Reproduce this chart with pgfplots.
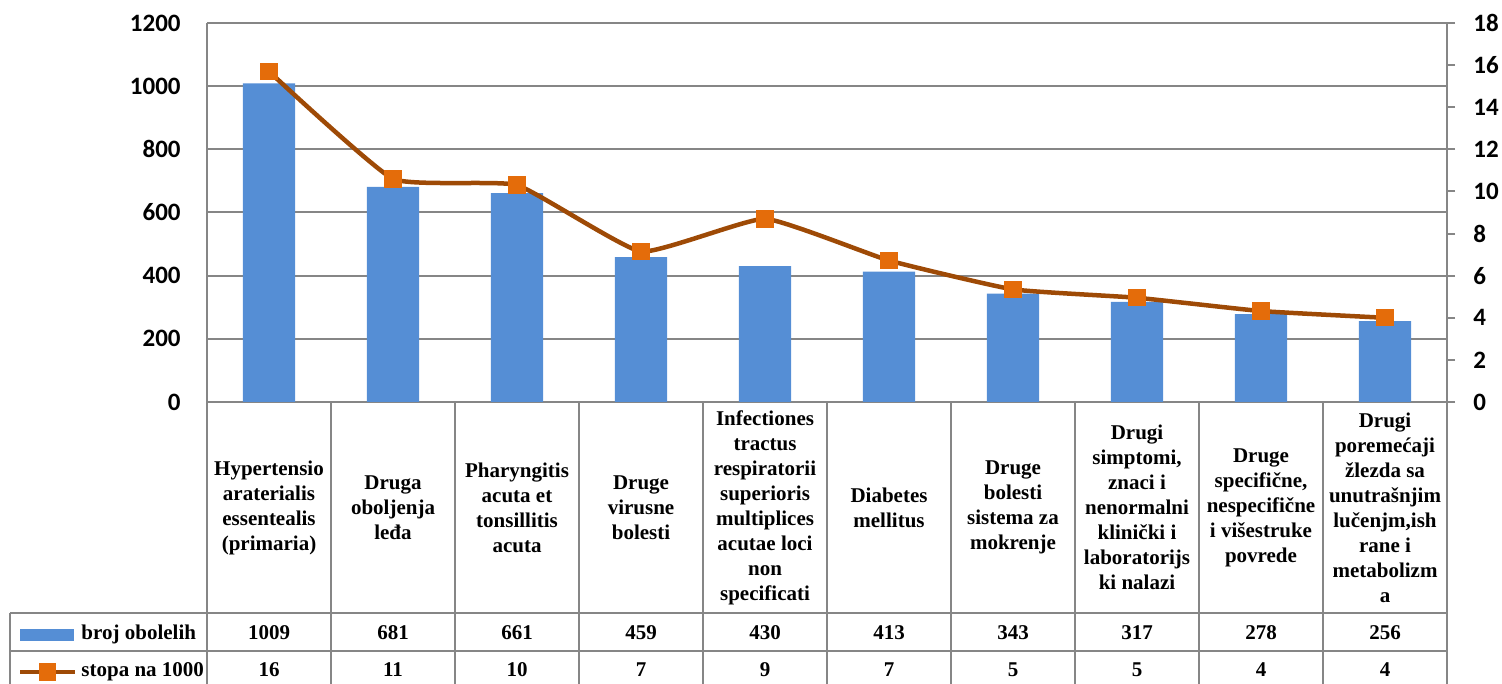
\documentclass[border=0pt]{standalone}
\usepackage{fontspec}
\setmainfont{Liberation Serif}
\newfontfamily\calib{Carlito}
\usepackage{pgfplots}
\pgfplotsset{compat=1.18}

\definecolor{barblue}{RGB}{85,142,213}
\definecolor{linebrown}{RGB}{158,74,6}
\definecolor{markorange}{RGB}{228,108,10}
\definecolor{gridgray}{RGB}{134,134,134}

% bar data (broj obolelih) and rate data (stopa na 1000)
\pgfplotstableread{
x broj stopa
0 1009 15.7
1 681 10.6
2 661 10.3
3 459 7.15
4 430 8.7
5 413 6.72
6 343 5.35
7 317 4.95
8 278 4.32
9 256 4.0
}\data

\newcommand{\tabfont}{\fontsize{10.5}{12.5}\selectfont\bfseries}

\pgfplotsset{
  base/.style={
    scale only axis, width=620pt, height=189.5pt,
    xmin=-0.5, xmax=9.5, ymin=0,
    xtick=\empty,
    axis line style={gridgray, line width=1pt},
    /pgf/number format/assume math mode=true,
    /pgf/number format/1000 sep={},
    yticklabel style={font=\calib\bfseries\fontsize{12.5}{12.5}\selectfont, inner sep=0pt},
    clip=false,
  },
}

\begin{document}
\begin{tikzpicture}
\begin{axis}[base,
  ymax=1200, ytick={0,200,...,1200},
  axis y line*=left, axis x line*=bottom,
  major tick length=0pt,
  ymajorgrids, grid style={gridgray, line width=1pt},
  yticklabel style={anchor=east, xshift=-13pt},
  ybar, bar width=0.42,
]
  \addplot[fill=barblue, draw=none] table[x=x, y=broj] {\data};
  \coordinate (O) at (rel axis cs:0,0);
\end{axis}

\begin{axis}[base,
  ymax=18, ytick={0,2,...,18},
  axis y line*=right, axis x line=none,
  tick align=outside, major tick length=4pt,
  tick style={gridgray, line width=1pt},
  yticklabel style={anchor=west, xshift=9pt},
  legend style={at={(0,0)}, anchor=north west, xshift=-94.5pt, yshift=-111pt,
    draw=none, fill=none, inner sep=0pt, outer sep=0pt,
    font=\tabfont, column sep=2pt, row sep=7.5pt,
    nodes={inner sep=0pt, text height=7.5pt, text depth=3.5pt}},
  legend cell align=left,
]
  \addlegendimage{legend image code/.code={\fill[barblue] (0pt,-2.75pt) rectangle (26.5pt,2.75pt);}}
  \addlegendentry{broj obolelih}
  \addplot[smooth, tension=0.25, linebrown, line width=2.25pt,
    mark=square*, mark size=4.1pt,
    mark options={fill=markorange, draw=markorange, line width=0.5pt},
    legend image code/.code={
      \draw[linebrown, line width=2.25pt] (0pt,0pt) -- (27.5pt,0pt);
      \fill[markorange] (10.5pt,-3.25pt) rectangle (17pt,3.25pt);}]
    table[x=x, y=stopa] {\data};
  \addlegendentry{stopa na 1000}
\end{axis}

% data table under the chart
\begin{scope}[gridgray, line width=1pt]
  \foreach \k in {0,...,10} {
    \draw ([xshift=\k*62pt]O) -- ([shift={(\k*62pt,-141pt)}]O);
  }
  \draw ([shift={(-98.5pt,-105.5pt)}]O) -- ([shift={(620pt,-105.5pt)}]O);
  \draw ([shift={(-98.5pt,-124.5pt)}]O) -- ([shift={(620pt,-124.5pt)}]O);
  \draw ([shift={(-98.5pt,-105.5pt)}]O) -- ([shift={(-98.5pt,-141pt)}]O);
\end{scope}

\foreach \txt [count=\i from 0] in {
  {Hypertensio\\araterialis\\essentealis\\(primaria)},
  {Druga\\oboljenja\\leđa},
  {Pharyngitis\\acuta et\\tonsillitis\\acuta},
  {Druge\\virusne\\bolesti},
  {Infectiones\\tractus\\respiratorii\\superioris\\multiplices\\acutae loci\\non\\specificati},
  {Diabetes\\mellitus},
  {Druge\\bolesti\\sistema za\\mokrenje},
  {Drugi\\simptomi,\\znaci i\\nenormalni\\klinički i\\laboratorijs\\ki nalazi},
  {Druge\\specifične,\\nespecifične\\i višestruke\\povrede},
  {Drugi\\poremećaji\\žlezda sa\\unutrašnjim\\lučenjm,ish\\rane i\\metabolizm\\a}} {
  \node[align=center, font=\tabfont, inner sep=0pt] at ([shift={(31pt+\i*62pt,-52.75pt)}]O) {\txt};
}

\foreach \v [count=\i from 0] in {1009,681,661,459,430,413,343,317,278,256} {
  \node[anchor=base, font=\tabfont, inner sep=0pt] at ([shift={(31pt+\i*62pt,-118.5pt)}]O) {\v};
}
\foreach \v [count=\i from 0] in {16,11,10,7,9,7,5,5,4,4} {
  \node[anchor=base, font=\tabfont, inner sep=0pt] at ([shift={(31pt+\i*62pt,-137pt)}]O) {\v};
}

\pgfresetboundingbox
\useasboundingbox ([shift={(-103.5pt,-141pt)}]O) rectangle ([shift={(647.5pt,201pt)}]O);
\end{tikzpicture}
\end{document}
